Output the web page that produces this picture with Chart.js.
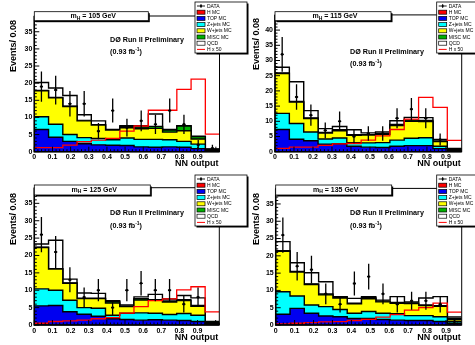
<!DOCTYPE html>
<html>
<head>
<meta charset="utf-8">
<script src="https://cdn.jsdelivr.net/npm/chart.js@4.4.0/dist/chart.umd.min.js"></script>
<style>
  body { margin: 0; background: #fff; }
  #wrap { position: relative; width: 475px; height: 345px; overflow: hidden; background: #fff; }
  canvas { position: absolute; }
</style>
</head>
<body>
<div id="wrap">
  <canvas id="c115"></canvas>
  <canvas id="c135"></canvas>
  <canvas id="c105"></canvas>
  <canvas id="c125"></canvas>
</div>
<script>
// bins of the NN output (13 bins); the right-hand pads are drawn with a slightly shorter axis
const binEdgesL = [0, 0.0785, 0.157, 0.2355, 0.314, 0.3925, 0.471, 0.5495, 0.628, 0.7065, 0.785, 0.8635, 0.942, 1.02];
const binEdgesR = [0, 0.0756, 0.1512, 0.2268, 0.3024, 0.378, 0.4536, 0.5292, 0.6048, 0.6804, 0.756, 0.8316, 0.9072, 0.983];
const xTicks = [0, 0.1, 0.2, 0.3, 0.4, 0.5, 0.6, 0.7, 0.8, 0.9];
const xTickLabels = ['0', '0.1', '0.2', '0.3', '0.4', '0.5', '0.6', '0.7', '0.8', '0.9'];
const yTicksA = [0, 5, 10, 15, 20, 25, 30, 35];
const yTicksB = [0, 5, 10, 15, 20, 25, 30, 35, 40];
const legendLabels = ['DATA', 'H MC', 'TOP MC', 'Z+jets MC', 'W+jets MC', 'MISC MC', 'QCD', 'H x 50'];
const massPoints = ['105', '115', '125', '135'];

// stack tops (cumulative)
const qcd105  = [20.2, 18.6, 16.4, 10.8, 9.0, 6.5, 7.6, 7.6, 11.0, 6.5, 7.6, 4.5, 0.8];
const misc105 = [17.9, 15.8, 13.3, 9.1, 7.9, 6.4, 7.3, 7.2, 7.4, 6.3, 7.5, 4.4, 0.7];
const wjet105 = [17.8, 15.7, 13.2, 9.0, 7.8, 6.3, 7.0, 6.7, 6.8, 5.7, 6.1, 3.7, 0.5];
const zjet105 = [10.2, 8.0, 5.0, 4.1, 3.9, 3.5, 4.0, 3.6, 3.6, 3.5, 3.0, 2.2, 0.3];
const top105  = [6.5, 4.2, 3.0, 2.3, 2.0, 1.9, 1.8, 1.4, 1.3, 1.4, 1.3, 0.9, 0.15];
const hx50_105 = [1.2, 1.2, 1.9, 2.9, 3.4, 3.9, 6.0, 7.5, 12.1, 12.1, 18.2, 21.2, 5.1];
const data105 = [19, 18, 14, 14, 6, 12, 7, 9, 8, 12, 8, 2, 1];
const err105  = [4.4, 4.2, 3.7, 3.7, 2.4, 3.5, 2.6, 3.0, 2.8, 3.5, 2.8, 1.4, 1.0];

const qcd115  = [27.8, 23.0, 13.5, 7.6, 8.3, 7.2, 6.2, 6.5, 10.2, 11.3, 11.2, 4.0, 1.1];
const misc115 = [25.9, 16.5, 11.1, 6.3, 7.2, 5.6, 5.6, 5.9, 9.0, 10.4, 10.3, 3.5, 1.0];
const wjet115 = [25.7, 16.3, 10.9, 6.1, 6.9, 5.4, 5.5, 5.7, 8.6, 10.0, 9.9, 3.3, 0.8];
const zjet115 = [12.6, 9.3, 6.5, 4.2, 4.5, 3.0, 2.9, 3.0, 3.8, 4.4, 4.6, 1.8, 0.4];
const top115  = [7.3, 4.1, 3.6, 2.5, 2.6, 1.8, 1.5, 1.4, 1.8, 2.0, 2.0, 1.0, 0.2];
const hx50_115 = [1.1, 1.5, 1.5, 2.1, 2.6, 2.7, 3.8, 5.2, 7.3, 10.7, 17.9, 14.6, 3.7];
const data115 = [32, 18, 12, 7, 10, 5, 6, 6, 11, 14, 11, 4, null];
const err115  = [5.7, 4.2, 3.5, 2.6, 3.2, 2.2, 2.4, 2.4, 3.3, 3.7, 3.3, 2.0, 0];

const qcd125  = [23.3, 24.4, 13.2, 9.2, 9.1, 7.0, 5.8, 8.1, 8.8, 7.5, 8.5, 7.8, 1.0];
const misc125 = [22.4, 16.2, 12.1, 7.7, 7.7, 6.7, 5.5, 7.6, 7.3, 6.9, 7.3, 5.6, 0.9];
const wjet125 = [22.3, 16.1, 12.0, 7.6, 7.6, 6.3, 5.3, 7.2, 7.1, 6.6, 7.0, 5.4, 0.7];
const zjet125 = [10.4, 10.0, 7.1, 5.0, 4.8, 2.8, 3.4, 3.5, 3.4, 3.0, 3.3, 2.8, 0.4];
const top125  = [5.5, 5.6, 3.8, 3.1, 2.5, 1.8, 1.6, 1.4, 1.5, 1.4, 1.3, 1.0, 0.2];
const hx50_125 = [0.5, 1.0, 1.2, 1.4, 1.8, 2.1, 3.4, 5.3, 7.0, 7.5, 10.1, 11.0, 3.8];
const data125 = [26, 21, 13, 8, 10, 5, 10, 12, 10, 10, 6, 8, null];
const err125  = [5.1, 4.6, 3.6, 2.8, 3.2, 2.2, 3.2, 3.5, 3.2, 3.2, 2.4, 2.8, 0];

const qcd135  = [24.1, 18.0, 15.1, 12.5, 8.2, 7.7, 8.2, 7.2, 8.2, 6.7, 7.8, 8.2, 2.3];
const misc135 = [21.5, 15.5, 11.9, 9.0, 8.0, 6.3, 7.9, 6.9, 6.5, 6.4, 5.8, 5.6, 1.8];
const wjet135 = [21.3, 15.3, 11.7, 8.7, 7.8, 6.1, 7.6, 6.7, 6.3, 6.2, 5.6, 5.4, 1.6];
const zjet135 = [9.6, 8.4, 5.8, 5.3, 4.5, 3.4, 3.9, 3.4, 3.3, 2.7, 2.7, 2.4, 1.0];
const top135  = [3.1, 4.8, 3.4, 2.6, 2.4, 1.9, 1.9, 1.6, 1.4, 1.3, 1.3, 1.0, 0.5];
const hx50_135 = [0.3, 0.5, 0.7, 0.9, 1.0, 1.3, 1.6, 2.3, 3.0, 4.3, 5.0, 6.3, 3.7];
const data135 = [26, 17, 16, 9, 6, 12, 14, 9, 6, 7, 7, 6, 1];
const err135  = [5.1, 4.1, 4.0, 3.0, 2.4, 3.5, 3.7, 3.0, 2.4, 2.6, 2.6, 2.4, 1.0];

const series = {
  '105': {qcd: qcd105, misc: misc105, w: wjet105, z: zjet105, top: top105, hx50: hx50_105, data: data105, err: err105},
  '115': {qcd: qcd115, misc: misc115, w: wjet115, z: zjet115, top: top115, hx50: hx50_115, data: data115, err: err115},
  '125': {qcd: qcd125, misc: misc125, w: wjet125, z: zjet125, top: top125, hx50: hx50_125, data: data125, err: err125},
  '135': {qcd: qcd135, misc: misc135, w: wjet135, z: zjet135, top: top135, hx50: hx50_135, data: data135, err: err135}
};

// page layout of the four pads
const pads = {
  '105': {left: 0,   top: 0,   w: 250, h: 172, area: [34.3, 16, 219.5, 151.7], yMax: 39.6, yTicks: yTicksA, edges: binEdgesL,
          box: [34.3, 11.7, 114, 9], leg: [195, 2], prelim: [110, 40, 52], yTitle: [14, 20], xTitleY: 164},
  '115': {left: 237, top: 0,   w: 238, h: 172, area: [38, 14.9, 224.7, 151.7], yMax: 45, yTicks: yTicksB, edges: binEdgesR,
          box: [38, 11.7, 116, 9], leg: [199.7, 2], prelim: [113, 52.5, 64.5], yTitle: [19.5, 18], xTitleY: 164},
  '125': {left: 0,   top: 172, w: 250, h: 173, area: [34.3, 15.7, 219.3, 153], yMax: 39.5, yTicks: yTicksA, edges: binEdgesL,
          box: [34.3, 13, 116, 10], leg: [195, 3], prelim: [110, 40.7, 54], yTitle: [14, 21], xTitleY: 165.5},
  '135': {left: 237, top: 172, w: 238, h: 173, area: [38.7, 16.4, 224.7, 153], yMax: 39.5, yTicks: yTicksA, edges: binEdgesR,
          box: [38.7, 13, 116, 10], leg: [199.7, 3], prelim: [113, 40.7, 54], yTitle: [19.5, 21], xTitleY: 165.5}
};

const colTop = '#0000f0', colZ = '#00ffff', colW = '#ffff00', colMisc = '#00b000', colH = '#ff0000';
const FONT = '"Liberation Sans", Arial, sans-serif';

// points at the left bin edges, each value held until the next edge
function hist(values, edges) {
  const pts = values.map((v, i) => ({x: edges[i], y: v}));
  pts.push({x: edges[edges.length - 1], y: values[values.length - 1]});
  return pts;
}

function dataPoints(vals, errs, edges) {
  const pts = [];
  vals.forEach((v, i) => {
    if (v === null) return;
    pts.push({x: (edges[i] + edges[i + 1]) / 2, y: v, e: errs[i]});
  });
  return pts;
}

function shadowBox(ctx, x, y, w, h) {
  ctx.fillStyle = '#000';
  ctx.fillRect(x + 1.5, y + 1.5, w, h);
  ctx.fillStyle = '#fff';
  ctx.fillRect(x, y, w, h);
  ctx.strokeStyle = '#000';
  ctx.lineWidth = 0.8;
  ctx.strokeRect(x, y, w, h);
}

function rootPlugin(mass, P) {
  const xMax = P.edges[P.edges.length - 1];
  return {
    id: 'root' + mass,
    afterDatasetsDraw(chart) {
      const ctx = chart.ctx, ys = chart.scales.y;
      const meta = chart.getDatasetMeta(0);
      const pts = chart.data.datasets[0].data;
      ctx.save();
      ctx.strokeStyle = '#000';
      ctx.lineWidth = 1.3;
      meta.data.forEach((el, i) => {
        const d = pts[i];
        const y1 = ys.getPixelForValue(Math.max(0, d.y - d.e));
        const y2 = ys.getPixelForValue(d.y + d.e);
        ctx.beginPath();
        ctx.moveTo(el.x, y1); ctx.lineTo(el.x, y2);
        ctx.moveTo(el.x - 1.6, el.y); ctx.lineTo(el.x + 1.6, el.y);
        ctx.stroke();
      });
      ctx.restore();
    },
    afterDraw(chart) {
      const ctx = chart.ctx, xs = chart.scales.x, ys = chart.scales.y;
      const {left, right, top, bottom} = chart.chartArea;
      ctx.save();
      // frame
      ctx.strokeStyle = '#000';
      ctx.lineWidth = 1;
      ctx.strokeRect(left, top, right - left, bottom - top);
      ctx.lineWidth = 1.5;
      ctx.beginPath();
      ctx.moveTo(left, top); ctx.lineTo(left, bottom); ctx.lineTo(right, bottom);
      ctx.stroke();
      // ticks (inside)
      ctx.lineWidth = 1;
      ctx.beginPath();
      for (let k = 0; k <= P.yMax; k++) {
        const y = ys.getPixelForValue(k);
        ctx.moveTo(left, y); ctx.lineTo(left + (k % 5 === 0 ? 5 : 2.5), y);
      }
      for (let k = 0; k * 0.02 <= xMax; k++) {
        const x = xs.getPixelForValue(k * 0.02);
        ctx.moveTo(x, bottom); ctx.lineTo(x, bottom - (k % 5 === 0 ? 5 : 2.5));
      }
      ctx.stroke();

      // title box with m_H
      const [bx, by, bw, bh] = P.box;
      shadowBox(ctx, bx, by, bw, bh);
      ctx.fillStyle = '#000';
      ctx.textBaseline = 'middle';
      ctx.textAlign = 'left';
      const big = 'bold 7px ' + FONT, small = 'bold 5px ' + FONT;
      const rest = ' = ' + mass + ' GeV';
      ctx.font = big;
      const wm = ctx.measureText('m').width, wr = ctx.measureText(rest).width;
      ctx.font = small;
      const wh = ctx.measureText('H').width;
      let tx = bx + bw / 2 - (wm + wh + wr) / 2 + 2;
      const ty = by + bh / 2;
      ctx.font = big; ctx.fillText('m', tx, ty); tx += wm;
      ctx.font = small; ctx.fillText('H', tx, ty + 2); tx += wh;
      ctx.font = big; ctx.fillText(rest, tx, ty);

      // D0 label
      const [px, py1, py2] = P.prelim;
      ctx.font = 'bold 7.2px ' + FONT;
      ctx.fillText('DØ Run II Preliminary', px, py1);
      const lumi = '(0.93 fb';
      ctx.fillText(lumi, px, py2);
      let lx = px + ctx.measureText(lumi).width;
      ctx.font = 'bold 5px ' + FONT;
      ctx.fillText('-1', lx, py2 - 2.5);
      lx += ctx.measureText('-1').width;
      ctx.font = 'bold 7.2px ' + FONT;
      ctx.fillText(')', lx, py2);

      // axis titles
      ctx.font = 'bold 9px ' + FONT;
      ctx.textAlign = 'right';
      ctx.fillText('NN output', right - 1, P.xTitleY);
      ctx.save();
      ctx.translate(P.yTitle[0], P.yTitle[1]);
      ctx.rotate(-Math.PI / 2);
      ctx.fillText('Events/ 0.08', 0, 0);
      ctx.restore();

      // legend
      const [gx, gy] = P.leg;
      const gw = 52, gh = 51;
      shadowBox(ctx, gx, gy, gw, gh);
      const fills = [null, colH, colTop, colZ, colW, colMisc, '#ffffff', null];
      ctx.font = '5px ' + FONT;
      ctx.textAlign = 'left';
      legendLabels.forEach((lab, i) => {
        const ry = gy + 4 + i * 6.2;
        const sx = gx + 2;
        if (i === 0) {
          ctx.strokeStyle = '#000'; ctx.lineWidth = 0.9;
          ctx.beginPath();
          ctx.moveTo(sx, ry); ctx.lineTo(sx + 8, ry);
          ctx.moveTo(sx + 4, ry - 2); ctx.lineTo(sx + 4, ry + 2);
          ctx.stroke();
          ctx.fillStyle = '#000';
          ctx.beginPath(); ctx.arc(sx + 4, ry, 1, 0, Math.PI * 2); ctx.fill();
        } else if (i === 7) {
          ctx.strokeStyle = colH; ctx.lineWidth = 1;
          ctx.beginPath(); ctx.moveTo(sx, ry); ctx.lineTo(sx + 8, ry); ctx.stroke();
        } else {
          ctx.fillStyle = fills[i];
          ctx.fillRect(sx, ry - 2, 8, 4);
          ctx.strokeStyle = '#000'; ctx.lineWidth = 0.7;
          ctx.strokeRect(sx, ry - 2, 8, 4);
        }
        ctx.fillStyle = '#000';
        ctx.fillText(lab, gx + 12, ry + 0.3);
      });
      ctx.restore();
    }
  };
}

function makeChart(mass) {
  const P = pads[mass], S = series[mass];
  const cv = document.getElementById('c' + mass);
  cv.width = P.w; cv.height = P.h;
  cv.style.left = P.left + 'px'; cv.style.top = P.top + 'px';
  cv.style.width = P.w + 'px'; cv.style.height = P.h + 'px';
  const step = (label, vals, color, fill) => ({
    label, data: hist(vals, P.edges), stepped: 'before', pointRadius: 0, borderColor: '#000',
    borderWidth: 1.4, backgroundColor: color, fill
  });
  new Chart(cv.getContext('2d'), {
    type: 'line',
    data: {
      datasets: [
        {label: 'DATA', data: dataPoints(S.data, S.err, P.edges), showLine: false, pointRadius: 1.3,
         pointBackgroundColor: '#000', pointBorderWidth: 0, borderColor: '#000', fill: false},
        {label: 'H x 50', data: hist(S.hx50, P.edges), stepped: 'before', pointRadius: 0, borderColor: colH,
         borderWidth: 1.3, fill: false},
        step('TOP MC', S.top, colTop, 'origin'),
        step('Z+jets MC', S.z, colZ, '-1'),
        step('W+jets MC', S.w, colW, '-1'),
        step('MISC MC', S.misc, colMisc, '-1'),
        step('QCD', S.qcd, '#ffffff', '-1')
      ]
    },
    options: {
      responsive: false,
      animation: false,
      devicePixelRatio: 1,
      layout: {padding: {left: 0, top: P.area[1], right: P.w - P.area[2], bottom: 0}},
      plugins: {legend: {display: false}, tooltip: {enabled: false}},
      scales: {
        x: {
          type: 'linear', min: 0, max: P.edges[P.edges.length - 1],
          afterBuildTicks: s => { s.ticks = xTicks.map(v => ({value: v})); },
          afterFit: s => { s.height = P.h - P.area[3]; },
          grid: {display: false, drawTicks: false}, border: {display: false},
          ticks: {callback: (v, i) => xTickLabels[i], autoSkip: false, maxRotation: 0,
                  color: '#000', padding: 1.5, font: {family: FONT, size: 7, weight: 'bold'}}
        },
        y: {
          type: 'linear', min: 0, max: P.yMax,
          afterBuildTicks: s => { s.ticks = P.yTicks.map(v => ({value: v})); },
          afterFit: s => { s.width = P.area[0]; },
          grid: {display: false, drawTicks: false}, border: {display: false},
          ticks: {callback: v => String(v), color: '#000', padding: 2,
                  font: {family: FONT, size: 7, weight: 'bold'}}
        }
      }
    },
    plugins: [rootPlugin(mass, P)]
  });
}

massPoints.forEach(makeChart);
</script>
</body>
</html>
